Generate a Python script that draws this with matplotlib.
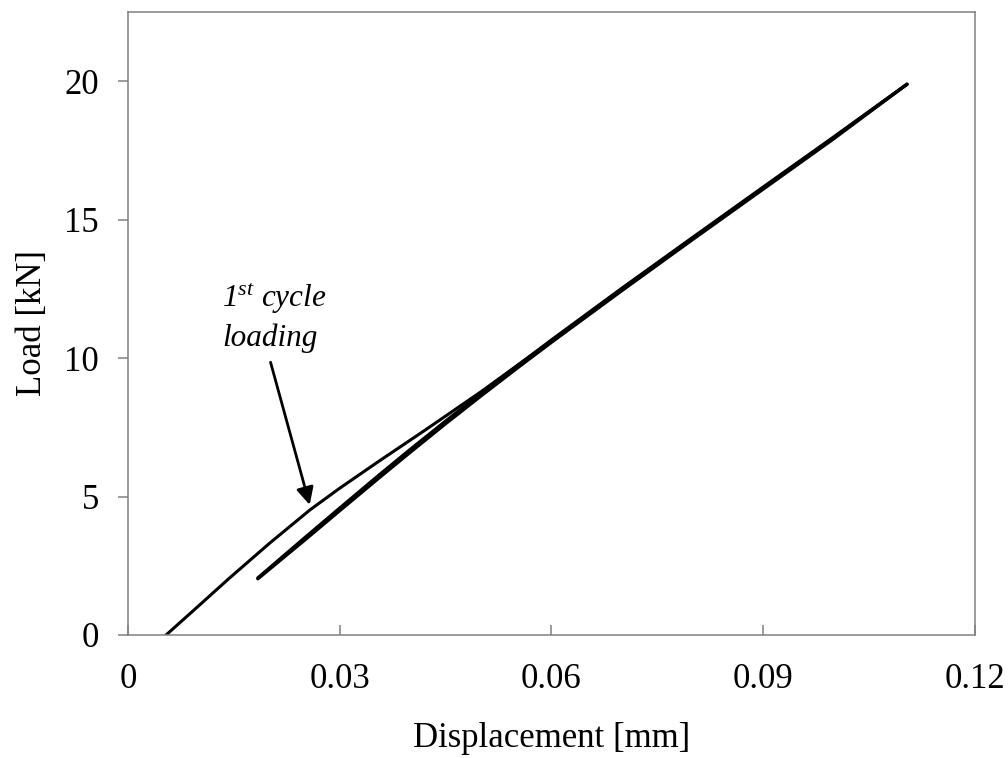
# -*- coding: utf-8 -*-
"""Load-displacement curve, first cycle loading and unloading/reloading."""

import numpy as np
import matplotlib
matplotlib.use('Agg')
import matplotlib.pyplot as plt

# *****************************************************************************
# *** Data

# 1st cycle loading:
vecLoadX = [0.0054, 0.0100, 0.0144, 0.0200, 0.0258, 0.0300, 0.0357, 0.0420,
            0.0460, 0.0500, 0.0540, 0.0600, 0.0700, 0.0800, 0.0900, 0.1000,
            0.1104]
vecLoadY = [0.00, 1.05, 2.06, 3.30, 4.52, 5.30, 6.30, 7.38,
            8.08, 8.78, 9.52, 10.62, 12.50, 14.33, 16.15, 17.97,
            19.89]

# Unloading:
vecUnlX = [0.1104, 0.1000, 0.0900, 0.0800, 0.0700, 0.0600, 0.0550, 0.0500,
           0.0450, 0.0400, 0.0357, 0.0300, 0.0250, 0.0184]
vecUnlY = [19.89, 17.92, 16.10, 14.28, 12.44, 10.57, 9.61, 8.63,
           7.63, 6.60, 5.70, 4.49, 3.42, 2.03]

# Reloading:
vecRelX = [0.0184, 0.0250, 0.0300, 0.0357, 0.0400, 0.0450, 0.0500, 0.0550,
           0.0600, 0.0700, 0.0800, 0.0900, 0.1000, 0.1104]
vecRelY = [2.06, 3.50, 4.58, 5.80, 6.70, 7.72, 8.72, 9.69, 10.65, 12.52,
           14.35, 16.17, 17.98, 19.89]

vecXtck = [0, 0.03, 0.06, 0.09, 0.12]
lstXlbl = ['0', '0.03', '0.06', '0.09', '0.12']
vecYtck = [0, 5, 10, 15, 20]
# *****************************************************************************

plt.rcParams['font.family'] = ['Liberation Serif', 'DejaVu Serif']
plt.rcParams['mathtext.fontset'] = 'custom'
plt.rcParams['mathtext.rm'] = 'Liberation Serif:italic'
plt.rcParams['mathtext.it'] = 'Liberation Serif:italic'

varDpi = 100.0
fgr01 = plt.figure(figsize=(1008 / varDpi, 758 / varDpi), dpi=varDpi)
axs01 = fgr01.add_axes([0.127, 0.1623, 0.840, 0.8219])

# Curves:
axs01.plot(vecLoadX, vecLoadY, color='black', linewidth=2.2,
           solid_capstyle='round', solid_joinstyle='round')
axs01.plot(vecUnlX, vecUnlY, color='black', linewidth=2.4,
           solid_capstyle='round', solid_joinstyle='round')
axs01.plot(vecRelX, vecRelY, color='black', linewidth=2.4,
           solid_capstyle='round', solid_joinstyle='round')

# Annotation:
axs01.annotate('', xy=(0.02575, 4.70), xytext=(0.0202, 9.85),
               arrowprops=dict(arrowstyle='-|>', color='black', lw=2.0,
                               mutation_scale=26, shrinkA=0, shrinkB=0))
axs01.text(0.0133, 10.2, r'$1^{st}$ cycle' + '\nloading', fontsize=22.5,
           style='italic', ha='left', va='bottom', linespacing=1.3)

# Axis ranges and ticks:
axs01.set_xlim([0, 0.12])
axs01.set_ylim([0, 22.5])
axs01.set_xticks(vecXtck)
axs01.set_xticklabels(lstXlbl)
axs01.set_yticks(vecYtck)

axs01.tick_params(axis='x', direction='in', length=7, width=1.1,
                  color='#808080', pad=20, labelsize=25)
axs01.tick_params(axis='y', direction='out', length=7, width=1.1,
                  color='#808080', pad=14, labelsize=25)

for strTmp in ['top', 'bottom', 'left', 'right']:
    axs01.spines[strTmp].set_linewidth(1.1)
    axs01.spines[strTmp].set_color('#808080')

axs01.set_xlabel('Displacement [mm]', fontsize=25)
axs01.set_ylabel('Load [kN]', fontsize=25)
axs01.xaxis.set_label_coords(0.5, -0.140)
axs01.yaxis.set_label_coords(-0.093, 0.5)

fgr01.savefig('out.png', dpi=varDpi, facecolor='w')
plt.close(fgr01)
